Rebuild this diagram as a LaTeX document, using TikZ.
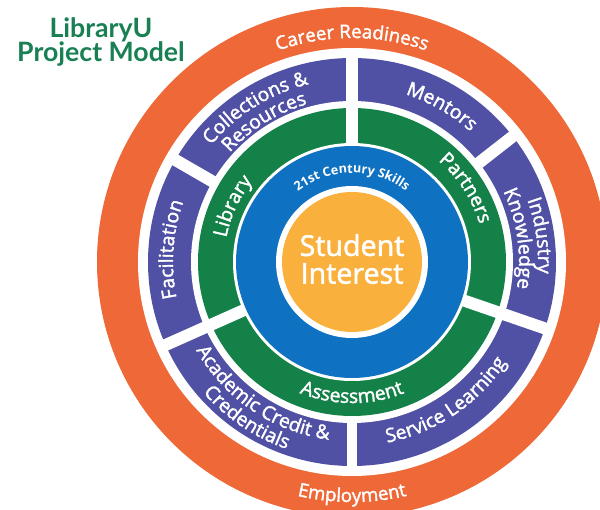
\documentclass[tikz,border=0pt]{standalone}
\usepackage{fontspec}
\setmainfont{Open Sans}
\newfontfamily\titlefont{Lato}
\newfontfamily\labelfamily{Open Sans}[FakeBold=1.8]
\usetikzlibrary{decorations.text}

\definecolor{careerorange}{RGB}{238,104,56}
\definecolor{mentorpurple}{RGB}{80,80,164}
\definecolor{partnergreen}{RGB}{20,129,72}
\definecolor{skillblue}{RGB}{14,113,193}
\definecolor{interestyellow}{RGB}{249,176,60}
\definecolor{titlegreen}{RGB}{24,128,82}

\newcommand{\ringfont}{\labelfamily\fontsize{14.5}{16}\selectfont}
\newcommand{\bandfont}{\labelfamily\fontsize{14}{16}\selectfont}
\newcommand{\skillfont}{\bfseries\fontsize{9.5}{11}\selectfont}

% white text bent round an arc: tops outward (clockwise) or inward (anticlockwise)
% #1 font, #2 text, #3 middle angle, #4 baseline radius
\newcommand{\ringtextout}[4]{%
  \path [decorate, decoration={text along path, text align=center,
      text={|\color{white}#1|#2}}]
    (#3+60:#4) arc [start angle=#3+60, end angle=#3-60, radius=#4];}
\newcommand{\ringtextin}[4]{%
  \path [decorate, decoration={text along path, text align=center,
      text={|\color{white}#1|#2}}]
    (#3-60:#4) arc [start angle=#3-60, end angle=#3+60, radius=#4];}

\tikzset{
  gapline/.style={white, line width=9pt},
}

\begin{document}
\begin{tikzpicture}[x=0.75pt, y=0.75pt]
\useasboundingbox (-352,-248) rectangle (248,262);

% rings, outside in
\fill [careerorange] (0,0) circle [radius=255];
\fill [white] (0,0) circle [radius=214];
\fill [mentorpurple] (0,0) circle [radius=204];
\fill [white] (0,0) circle [radius=161];
\fill [partnergreen] (0,0) circle [radius=154];
\fill [white] (0,0) circle [radius=119];
\fill [skillblue] (0,0) circle [radius=116];
\fill [white] (0,0) circle [radius=76];
\fill [interestyellow] (0,0) circle [radius=70];

% cuts through green and purple
\draw [gapline] (90:117) -- (90:209);
\draw [gapline] (-19:117) -- (-19:209);
\draw [gapline] (204:117) -- (204:209);
% cuts through purple only
\draw [gapline] (38:157) -- (38:209);
\draw [gapline] (150:157) -- (150:209);
\draw [gapline, line width=7pt] (270:157) -- (270:209);

% orange
\ringtextout{\bandfont}{Career Readiness}{90}{224}
\ringtextin{\bandfont}{Employment}{270}{240}

% purple
\ringtextout{\ringfont}{Mentors}{60}{176}
\ringtextout{\ringfont}{Collections {\&}}{122}{183}
\ringtextout{\ringfont}{Resources}{122}{164}
\ringtextout{\ringfont}{Industry}{8}{186}
\ringtextout{\ringfont}{Knowledge}{8}{167}
\ringtextout{\ringfont}{Facilitation}{176}{179}
\ringtextin{\ringfont}{Service Learning}{-56}{184}
\ringtextin{\ringfont}{Academic Credit {\&}}{236}{179}
\ringtextin{\ringfont}{Credentials}{236}{198}

% green
\ringtextout{\ringfont}{Library}{155}{128}
\ringtextout{\ringfont}{Partners}{33}{133}
\ringtextin{\ringfont}{Assessment}{270}{141}

% blue
\ringtextout{\skillfont}{21st Century Skills}{90}{89}

\node [white, align=center, font=\labelfamily\fontsize{21.5}{20.8}\selectfont] (core) at (0,3) {Student\\Interest};
\node [titlegreen, align=center, font=\titlefont\bfseries\fontsize{20}{18.5}\selectfont] (title) at (-251,220) {LibraryU\\Project Model};
\end{tikzpicture}
\end{document}
